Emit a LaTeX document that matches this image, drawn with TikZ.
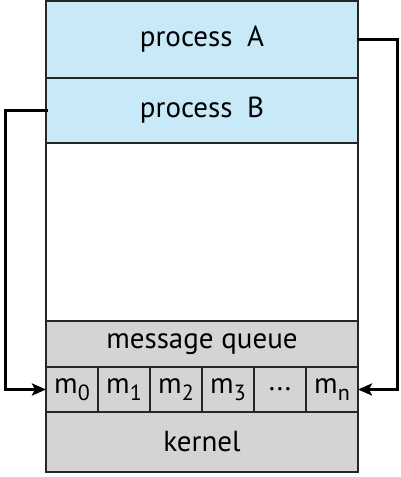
\documentclass[tikz,border=0pt]{standalone}
\usepackage{fontspec}
\setmainfont{PT Sans}
\usetikzlibrary{arrows.meta}
\definecolor{procblue}{RGB}{200,234,248}
\definecolor{kgray}{RGB}{212,212,212}
\tikzset{
  blk/.style={draw=black!85, line width=1.6pt, minimum width=312pt, inner sep=0pt, outer sep=0pt, font=\fontsize{29}{32}\selectfont},
  cell/.style={draw=black!85, line width=1.6pt, fill=kgray, minimum width=52pt, minimum height=45pt, inner sep=0pt, outer sep=0pt, font=\fontsize{29}{32}\selectfont},
  conn/.style={line width=3pt, line cap=rect},
  tip/.style={-{Stealth[length=14pt,width=12pt,inset=3pt]}}
}
\newcommand{\msub}[1]{m\raisebox{-0.25em}{\fontsize{22}{24}\selectfont #1}}
\begin{document}
\begin{tikzpicture}[x=1pt,y=1pt]
\useasboundingbox (0,0) rectangle (401,477);
\node[blk, fill=procblue, minimum height=77pt] (pA) at (202,437.5) {process\hspace{0.5em}A};
\node[blk, fill=procblue, minimum height=65pt] (pB) at (202,366.5) {process\hspace{0.5em}B};
\node[blk, fill=white, minimum height=178pt] (free) at (202,245) {};
\node[blk, fill=kgray, minimum height=46pt] (mq) at (202,133) {message queue};
\node[cell] (m0) at (72,87.5) {\msub{0}};
\node[cell] (m1) at (124,87.5) {\msub{1}};
\node[cell] (m2) at (176,87.5) {\msub{2}};
\node[cell] (m3) at (228,87.5) {\msub{3}};
\node[cell] (md) at (280,87.5) {...};
\node[cell] (mn) at (332,87.5) {\msub{n}};
\node[blk, fill=kgray, minimum height=60pt] (kern) at (202,35) {kernel};
\coordinate (lt) at (5.5,366.5);
\coordinate (lb) at (5.5,87.5);
\coordinate (rt) at (397.5,437.5);
\coordinate (rb) at (397.5,87.5);
\draw[conn, tip] (pB.west) -- (lt) -- (lb) -- (m0.west);
\draw[conn, tip] (pA.east) -- (rt) -- (rb) -- (mn.east);
\end{tikzpicture}
\end{document}
